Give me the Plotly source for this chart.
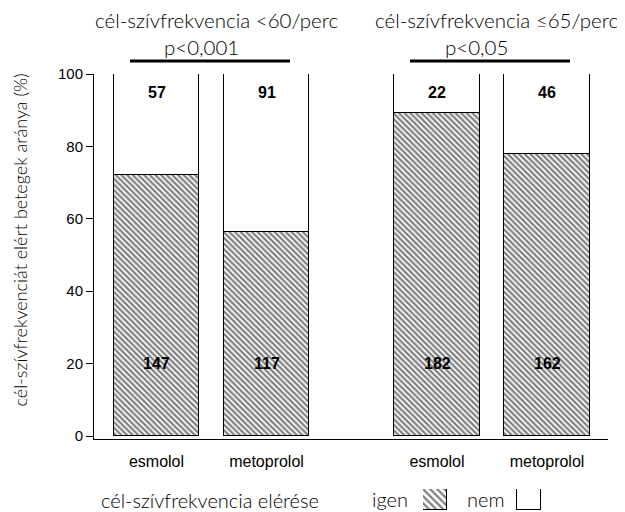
import plotly.graph_objects as go

# browser window and the 8 px page margin around the plot div
WIN_W, WIN_H, OFF = 625, 512, 8
W, H = WIN_W - OFF, WIN_H - OFF

# ---- data ----
groups = ["cél-szívfrekvencia <60/perc", "cél-szívfrekvencia ≤65/perc"]
p_values = ["p<0,001", "p<0,05"]
drugs = ["esmolol", "metoprolol", "esmolol", "metoprolol"]
n_igen = [147, 117, 182, 162]
n_nem = [57, 91, 22, 46]
x_pos = [0, 1, 2.55, 3.55]
y_ticks = [0, 20, 40, 60, 80, 100]
legend_labels = ["igen", "nem"]
x_title = "cél-szívfrekvencia elérése"
y_title = "cél-szívfrekvenciát elért betegek aránya (%)"

pct_igen = [100 * a / (a + b) for a, b in zip(n_igen, n_nem)]
pct_nem = [100 - p for p in pct_igen]

def px(x):
    return (x - OFF) / W

def py(y):
    return 1 - (y - OFF) / H

AR = "Liberation Sans, Arial, sans-serif"
LT = "Lato, Open Sans, sans-serif"

fig = go.Figure()
hatch = dict(shape="\\", fgcolor="black", bgcolor="white", size=4, solidity=0.55)

fig.add_trace(go.Bar(x=x_pos, y=pct_igen, width=0.78, name="igen",
                     marker=dict(color="white", pattern=hatch,
                                 line=dict(color="black", width=1)),
                     showlegend=False, hoverinfo="skip"))
fig.add_trace(go.Bar(x=x_pos, y=pct_nem, width=0.78, name="nem",
                     marker=dict(color="white", line=dict(color="black", width=1)),
                     showlegend=False, hoverinfo="skip"))

# legend swatches on a small helper axis
fig.add_trace(go.Bar(x=[0], y=[1], width=1, xaxis="x2", yaxis="y2",
                     marker=dict(color="white",
                                 pattern=dict(shape="\\", fgcolor="black", bgcolor="white",
                                              size=5, solidity=0.45),
                                 line=dict(color="black", width=1)),
                     showlegend=False, hoverinfo="skip"))
fig.add_trace(go.Bar(x=[4], y=[1], width=1, xaxis="x2", yaxis="y2",
                     marker=dict(color="white", line=dict(color="black", width=1.2)),
                     showlegend=False, hoverinfo="skip"))

def txt(x, y, s, font, **kw):
    d = dict(x=x, y=y, text=s, showarrow=False, xanchor="center", yanchor="middle",
             font=font)
    d.update(kw)
    return d

bold = dict(family=AR, size=16, color="black")
light_t = dict(family=LT, size=20.5, color="black", weight=300)
light_b = dict(family=LT, size=20, color="black", weight=300)

ann = []
for x, a, b in zip(x_pos, n_igen, n_nem):
    ann.append(txt(x, 20, f"<b>{a}</b>", bold, xref="x", yref="y"))
    ann.append(txt(x, 94.8, f"<b>{b}</b>", bold, xref="x", yref="y"))

title_cx = [216, 496]
p_cx = [201, 477]
line_x = [(130, 290), (410, 570)]
for g, p, tc, pc in zip(groups, p_values, title_cx, p_cx):
    ann.append(txt(px(tc), py(19.5), g, light_t, xref="paper", yref="paper"))
    ann.append(txt(px(pc), py(47), p, light_t, xref="paper", yref="paper"))

ann.append(txt(px(19.5), py(240), y_title,
               dict(family=LT, size=18, color="black", weight=300),
               xref="paper", yref="paper", textangle=-90))
ann.append(txt(px(210), py(500), x_title, light_b, xref="paper", yref="paper"))
ann.append(txt(px(390), py(499), legend_labels[0], light_b, xref="paper", yref="paper"))
ann.append(txt(px(486), py(499), legend_labels[1], light_b, xref="paper", yref="paper"))

shapes = []
for x0, x1 in line_x:
    shapes.append(dict(type="line", xref="paper", yref="paper", x0=px(x0), x1=px(x1),
                       y0=py(61), y1=py(61), line=dict(color="black", width=3)))

fig.update_layout(
    width=W, height=H, margin=dict(l=0, r=0, t=0, b=0, autoexpand=False),
    paper_bgcolor="white", plot_bgcolor="white", barmode="stack", bargap=0,
    annotations=ann, shapes=shapes,
    xaxis=dict(domain=[px(94), px(608)], range=[(94 - 156.5) / 110, (608 - 156.5) / 110],
               tickvals=x_pos, ticktext=drugs, ticks="", showline=True,
               linecolor="black", linewidth=1.2, showgrid=False, zeroline=False,
               tickfont=dict(family=AR, size=16, color="black"), ticklabelstandoff=8,
               automargin=False, fixedrange=True),
    yaxis=dict(domain=[py(439), py(74)], range=[-0.83, 100], tickvals=y_ticks,
               ticks="outside", ticklen=7, tickwidth=1, tickcolor="black",
               showline=True, linecolor="black", linewidth=1, showgrid=False,
               zeroline=False, tickfont=dict(family=AR, size=15, color="black"),
               automargin=False, fixedrange=True),
    xaxis2=dict(domain=[px(423), px(541)], range=[-0.5, 4.5], visible=False,
                anchor="y2", automargin=False, fixedrange=True),
    yaxis2=dict(domain=[py(510), py(489)], range=[0, 1], visible=False,
                anchor="x2", automargin=False, fixedrange=True),
)

fig.write_html("out.html")
